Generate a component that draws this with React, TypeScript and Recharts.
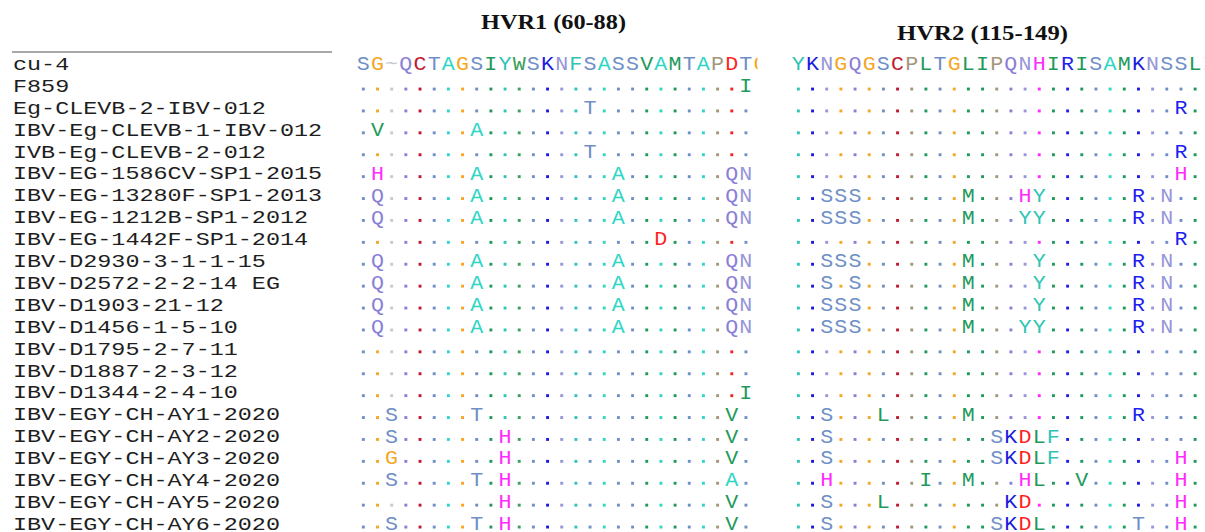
import React from "react";
import { ScatterChart, Scatter, XAxis, YAxis } from "recharts";

// strain names, top to bottom (first row is the reference)
const NAMES = [
  "cu-4",
  "F859",
  "Eg-CLEVB-2-IBV-012",
  "IBV-Eg-CLEVB-1-IBV-012",
  "IVB-Eg-CLEVB-2-012",
  "IBV-EG-1586CV-SP1-2015",
  "IBV-EG-13280F-SP1-2013",
  "IBV-EG-1212B-SP1-2012",
  "IBV-EG-1442F-SP1-2014",
  "IBV-D2930-3-1-1-15",
  "IBV-D2572-2-2-14 EG",
  "IBV-D1903-21-12",
  "IBV-D1456-1-5-10",
  "IBV-D1795-2-7-11",
  "IBV-D1887-2-3-12",
  "IBV-D1344-2-4-10",
  "IBV-EGY-CH-AY1-2020",
  "IBV-EGY-CH-AY2-2020",
  "IBV-EGY-CH-AY3-2020",
  "IBV-EGY-CH-AY4-2020",
  "IBV-EGY-CH-AY5-2020",
  "IBV-EGY-CH-AY6-2020",
];

// reference residues (cu-4)
const HVR1_REF = "SG~QCTAGSIYWSKNFSASSVAMTAPDTG";
const HVR2_REF = "YKNGQGSCPLTGLIPQNHIRISAMKNSSLI";

// "." = same as reference; spaces only group columns by 7
const HVR1_ROWS = [
  "....... ....... ....... ......I",
  "....... ....... ..T.... .......",
  ".V..... .A..... ....... .......",
  "....... ....... ..T.... .......",
  ".H..... .A..... ....A.. .....QN",
  ".Q..... .A..... ....A.. .....QN",
  ".Q..... .A..... ....A.. .....QN",
  "....... ....... ....... D......",
  ".Q..... .A..... ....A.. .....QN",
  ".Q..... .A..... ....A.. .....QN",
  ".Q..... .A..... ....A.. .....QN",
  ".Q..... .A..... ....A.. .....QN",
  "....... ....... ....... .......",
  "....... ....... ....... .......",
  "....... ....... ....... ......I",
  "..S.... .T..... ....... .....V.",
  "..S.... ...H... ....... .....V.",
  "..G.... ...H... ....... .....V.",
  "..S.... .T.H... ....... .....A.",
  "....... ...H... ....... .....V.",
  "..S.... .T.H... ....... .....V.",
];

const HVR2_ROWS = [
  "....... ....... ....... ....... .",
  "....... ....... ....... ......R .",
  "....... ....... ....... ....... .",
  "....... ....... ....... ......R .",
  "....... ....... ....... ......H .",
  "..SSS.. .....M. ..HY... ...R.N. .",
  "..SSS.. .....M. ..YY... ...R.N. .",
  "....... ....... ....... ......R .",
  "..SSS.. .....M. ...Y... ...R.N. .",
  "..S.S.. .....M. ...Y... ...R.N. .",
  "..SSS.. .....M. ...Y... ...R.N. .",
  "..SSS.. .....M. ..YY... ...R.N. .",
  "....... ....... ....... ....... .",
  "....... ....... ....... ....... .",
  "....... ....... ....... ....... .",
  "..S...L .....M. ....... ...R... .",
  "..S.... ....... SKDLF.. ....... .",
  "..S.... ....... SKDLF.. ......H .",
  "..H.... ..I..M. ..HL..V ......H .",
  "..S...L ....... .KD.... ......H .",
  "..S.... ....... SKDL... ...T..H .",
];

const COLORS: Record<string, string> = {
  S: "#6f8fc7", T: "#6f8fc7", G: "#f5a623", "~": "#c4c9d3",
  Q: "#8a7fd6", C: "#c0182e", A: "#2fd6c6", I: "#1f9a5c",
  Y: "#2ec4b6", W: "#3aa05a", K: "#1a1ae0", N: "#9696d8",
  F: "#2ec4b6", V: "#1f9a5c", M: "#1f9a5c", P: "#a3977a",
  D: "#ff1f1f", H: "#ff2bff", L: "#1f9a5c", R: "#1f1ff0",
};

const W = 1205;
const H = 532;
const NAME_W = 340;
const HVR2_OFFSET = 30.7; // column shift of the second block
const X_DOMAIN: [number, number] = [-0.644, 60.4];
const Y_DOMAIN: [number, number] = [-2.922, 21.37];
const MONO = "'Courier New', 'Liberation Mono', monospace";
const ROW_TICKS = NAMES.map((_, i) => i);

type Pt = { x: number; y: number; ch: string; color: string; dot: boolean; clip?: boolean };

const points: Pt[] = [];
NAMES.forEach((_, r) => {
  if (r === 0) {
    HVR1_REF.split("").forEach((ch, i) =>
      points.push({ x: i + 1, y: 0, ch, color: COLORS[ch], dot: false, clip: i === 28 }));
    HVR2_REF.split("").forEach((ch, i) =>
      points.push({ x: i + 1 + HVR2_OFFSET, y: 0, ch, color: COLORS[ch], dot: false }));
    return;
  }
  const s1 = HVR1_ROWS[r - 1].replace(/ /g, "");
  s1.split("").forEach((ch, i) => {
    const dot = ch === ".";
    points.push({ x: i + 1, y: r, ch, color: COLORS[dot ? HVR1_REF[i] : ch], dot });
  });
  const s2 = HVR2_ROWS[r - 1].replace(/ /g, "");
  s2.split("").forEach((ch, i) => {
    const dot = ch === ".";
    points.push({ x: i + 1 + HVR2_OFFSET, y: r, ch, color: COLORS[dot ? HVR2_REF[i] : ch], dot });
  });
});

function Residue(props: any) {
  const { cx, cy } = props;
  const p: Pt = props.payload ?? props;
  if (cx == null || cy == null) return <g />;
  if (p.dot) {
    return <rect x={cx - 1.4} y={cy + 1.7} width={2.9} height={2.9} fill={p.color} />;
  }
  const txt = (
    <text x={cx} y={cy + 6.3} textAnchor="middle" fontFamily={MONO} fontSize={19.5}
      fill={p.color} textLength={13} lengthAdjust="spacingAndGlyphs"
      clipPath={p.clip ? "url(#hvr1-edge)" : undefined}>
      {p.ch}
    </text>
  );
  if (!p.clip) return txt;
  return (
    <g>
      <defs>
        <clipPath id="hvr1-edge">
          <rect x={cx - 10} y={cy - 15} width={7.5} height={30} />
        </clipPath>
      </defs>
      {txt}
    </g>
  );
}

function NameTick(props: any) {
  const { y, payload } = props;
  const name = NAMES[payload.value] ?? "";
  return (
    <text x={13} y={y + 6} fontFamily={MONO} fontSize={18.5} fill="#1e1e1e"
      textLength={name.length * 14.05} lengthAdjust="spacingAndGlyphs">
      {name}
    </text>
  );
}

export default function App() {
  return (
    <div style={{ position: "absolute", left: 0, top: 0, width: W, height: H, background: "#fff", overflow: "hidden" }}>
      <ScatterChart width={W} height={H} margin={{ top: 0, right: 0, bottom: 0, left: 0 }}>
        <XAxis type="number" dataKey="x" domain={X_DOMAIN} allowDataOverflow hide />
        <YAxis type="number" dataKey="y" domain={Y_DOMAIN} allowDataOverflow reversed
          width={NAME_W} ticks={ROW_TICKS} interval={0} axisLine={false} tickLine={false}
          tick={<NameTick />} />
        <Scatter data={points} shape={<Residue />} isAnimationActive={false} />
      </ScatterChart>
      {/* block titles + rule over the names */}
      <svg width={W} height={H} style={{ position: "absolute", left: 0, top: 0, pointerEvents: "none" }}>
        <line x1={12} x2={332} y1={52} y2={52} stroke="#8a8a8a" strokeWidth={1.3} />
        <text x={481} y={29} fontFamily="'Times New Roman', 'Liberation Serif', serif" fontWeight={700}
          fontSize={21} fill="#111" textLength={145} lengthAdjust="spacingAndGlyphs">HVR1 (60-88)</text>
        <text x={897} y={40} fontFamily="'Times New Roman', 'Liberation Serif', serif" fontWeight={700}
          fontSize={21} fill="#111" textLength={171} lengthAdjust="spacingAndGlyphs">HVR2 (115-149)</text>
      </svg>
    </div>
  );
}
